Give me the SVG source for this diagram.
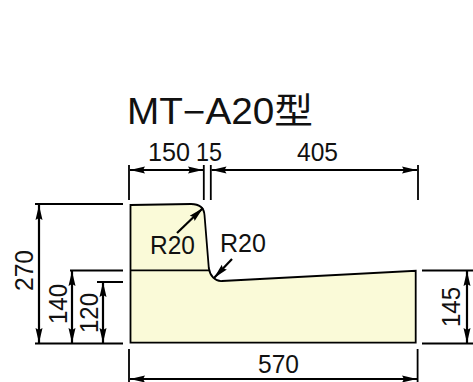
<svg xmlns="http://www.w3.org/2000/svg" width="473" height="382" viewBox="0 0 473 382">
<style>
.d{stroke:#000;stroke-width:1.800;fill:none}
.a{stroke:#000;stroke-width:2.200;fill:none}
.t{font-family:"Liberation Sans","Noto Sans CJK JP",sans-serif;font-size:25px;fill:#111}
</style>
<defs>
<marker id="ah" markerWidth="16" markerHeight="10" refX="15" refY="5" orient="auto-start-reverse" markerUnits="userSpaceOnUse"><path d="M0 1.500L15 5L0 8.500L2 5Z" fill="#000"/></marker>
</defs>
<g id="title"><text x="127" y="123.500" style="font-family:'Liberation Sans','Noto Sans CJK JP',sans-serif;font-size:36px;fill:#111" textLength="186" lengthAdjust="spacingAndGlyphs">MT−A20型</text></g>
<g id="section">
<path d="M130.500 205L191 204C199 204 204 208 204.500 215L208.800 268C210 276 215 281.500 222 281L415.700 270.800V342.700H130.500Z" fill="#fafad8" stroke="#000" stroke-width="1.800"/>
<path d="M130.500 270.300H209" class="d"/>
</g>
<g id="connectors">
<path class="d" d="M129 200V165M203.800 200V165M210.800 200V165M418 200V165M35 204H123M70 270.500H123M97 282H123M35 343.500H123M129 349V382M417.600 349V382M422 270.500H473M422 343.500H473"/>
<path class="a" d="M130 170H203" marker-start="url(#ah)" marker-end="url(#ah)"/>
<path class="a" d="M211.500 170H417" marker-start="url(#ah)"  marker-end="url(#ah)"/>
<path class="a" d="M130 379H417" marker-start="url(#ah)" marker-end="url(#ah)"/>
<path class="a" d="M39 205V343" marker-start="url(#ah)" marker-end="url(#ah)"/>
<path class="a" d="M72 271V343" marker-start="url(#ah)" marker-end="url(#ah)"/>
<path class="a" d="M103 282V343" marker-start="url(#ah)" marker-end="url(#ah)"/>
<path class="a" d="M467 271V343" marker-start="url(#ah)" marker-end="url(#ah)"/>
<path class="a" d="M177 233L203 208" marker-end="url(#ah)"/>
<path class="a" d="M232 259L214 278" marker-end="url(#ah)"/>
</g>
<g id="labels">
<text class="t" x="148" y="160.500" textLength="42" lengthAdjust="spacingAndGlyphs">150</text>
<text class="t" x="196" y="160.500" textLength="26" lengthAdjust="spacingAndGlyphs">15</text>
<text class="t" x="297" y="160.500" textLength="41" lengthAdjust="spacingAndGlyphs">405</text>
<text class="t" x="150" y="254" textLength="45" lengthAdjust="spacingAndGlyphs">R20</text>
<text class="t" x="220" y="252" textLength="46" lengthAdjust="spacingAndGlyphs">R20</text>
<text class="t" x="258" y="373" textLength="41" lengthAdjust="spacingAndGlyphs">570</text>
<text class="t" transform="translate(33 291) rotate(-90)" textLength="41" lengthAdjust="spacingAndGlyphs">270</text>
<text class="t" transform="translate(66.500 324) rotate(-90)" textLength="40" lengthAdjust="spacingAndGlyphs">140</text>
<text class="t" transform="translate(98 333) rotate(-90)" textLength="40" lengthAdjust="spacingAndGlyphs">120</text>
<text class="t" transform="translate(460 327) rotate(-90)" textLength="40" lengthAdjust="spacingAndGlyphs">145</text>
</g>
</svg>
